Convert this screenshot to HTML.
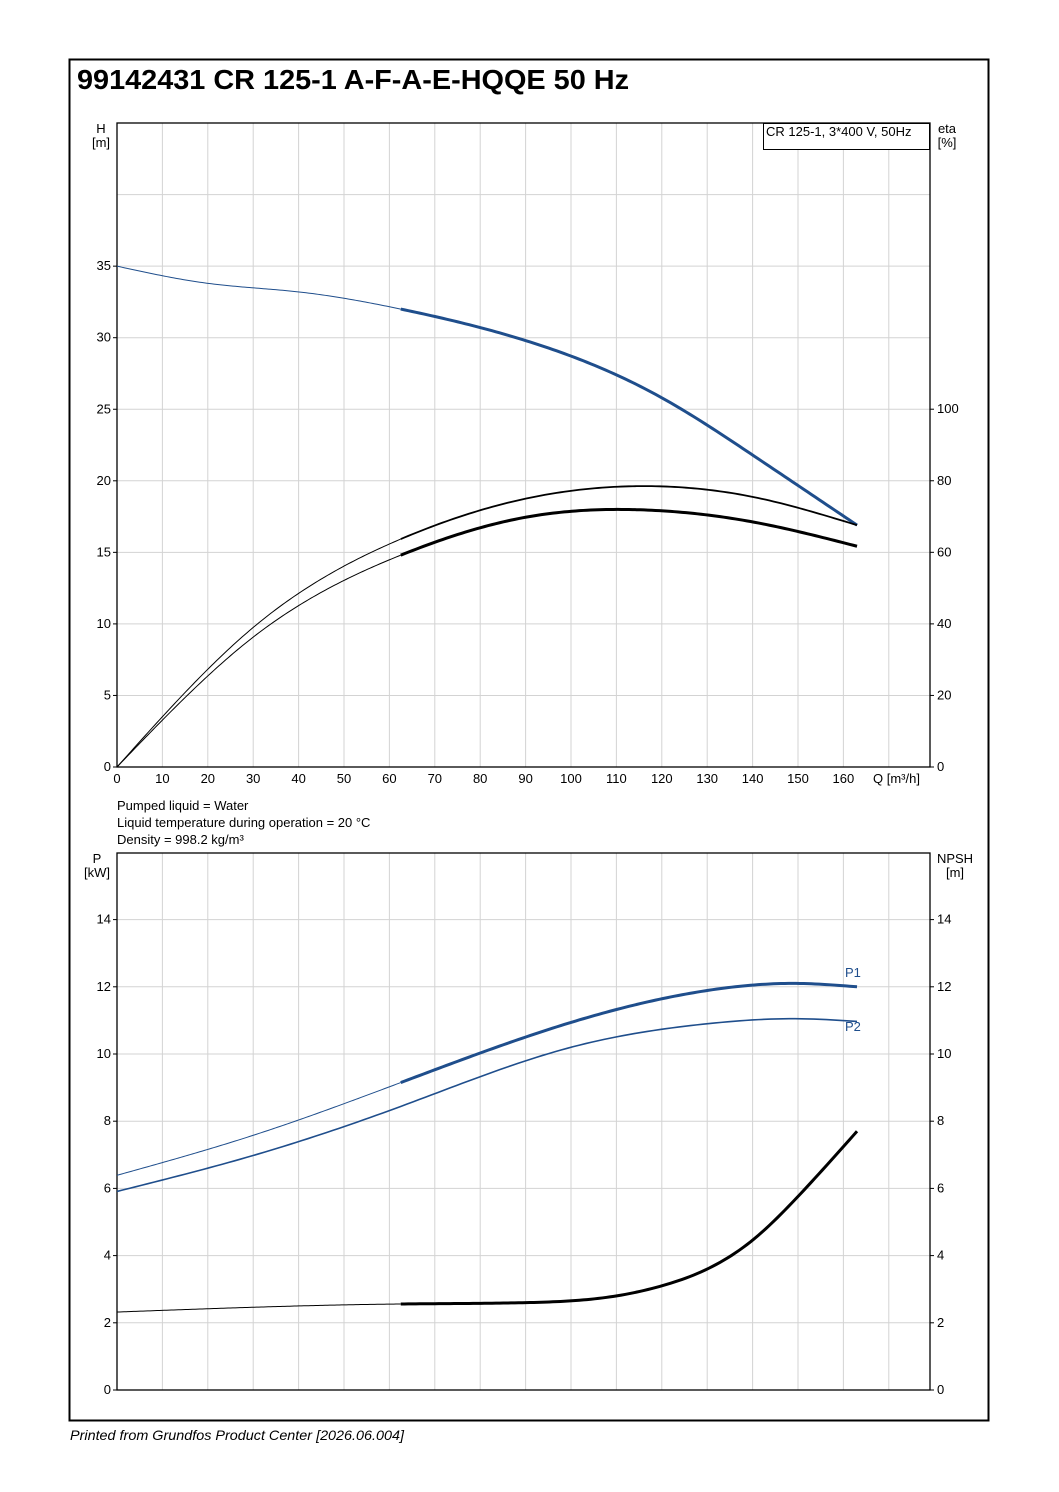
<!DOCTYPE html>
<html><head><meta charset="utf-8"><style>
html,body{margin:0;padding:0;background:#fff;width:1059px;height:1492px;overflow:hidden}
svg{display:block;font-family:"Liberation Sans",Arial,sans-serif}
</style></head><body>
<svg id="s" width="1059" height="1492" xmlns="http://www.w3.org/2000/svg">
<rect x="69.5" y="59.5" width="919" height="1361" fill="none" stroke="#000" stroke-width="2"/>
<text x="77" y="89" font-size="28" font-weight="bold" textLength="552" lengthAdjust="spacingAndGlyphs">99142431 CR 125-1 A-F-A-E-HQQE 50 Hz</text>
<text x="70" y="1440" font-size="14" font-style="italic" textLength="334" lengthAdjust="spacingAndGlyphs">Printed from Grundfos Product Center [2026.06.004]</text>
<text x="117" y="810" font-size="13">Pumped liquid = Water</text>
<text x="117" y="827" font-size="13">Liquid temperature during operation = 20 °C</text>
<text x="117" y="844" font-size="13">Density = 998.2 kg/m³</text>
<g id="g"></g>
</svg>
<script>
const qTicks=[0,10,20,30,40,50,60,70,80,90,100,110,120,130,140,150,160];
const hTicks=[0,5,10,15,20,25,30,35];
const etaTicks=[0,20,40,60,80,100];
const pTicks=[0,2,4,6,8,10,12,14];
const npshTicks=[0,2,4,6,8,10,12,14];
const qH=[0,20,40,62.5,90,120,140,163];
const hVals=[35,33.8,33.2,32,29.8,25.8,21.8,16.9];
const qEta=[0,30,62.5,90,117,140,163];
const etaTotal=[0,39,63.7,75,78.5,75.5,67.6];
const etaPump=[0,36.3,59.2,69.8,71.8,68.5,61.7];
const qP=[0,30,62.5,100,130,150,163];
const p1Vals=[6.39,7.58,9.15,10.94,11.89,12.1,12.0];
const p2Vals=[5.91,6.98,8.44,10.2,10.9,11.05,10.97];
const qN=[0,62.5,90,110,120,130,140,150,163];
const npshVals=[2.32,2.56,2.6,2.8,3.1,3.6,4.46,5.76,7.7];
const split=62.5;

const NS="http://www.w3.org/2000/svg";
const g=document.getElementById('g');
const X0=117,X1=930;
const xQ=q=>X0+q*4.54;
const yH=h=>767-h*14.31;
const yEta=e=>767-e*3.578;
const yP=p=>1390-p*33.6;
function el(t,a,p){const e=document.createElementNS(NS,t);for(const k in a)e.setAttribute(k,a[k]);(p||g).appendChild(e);return e;}
function txt(x,y,s,anchor,size,fill){const e=el('text',{x,y,'font-size':size||13,'text-anchor':anchor||'start',fill:fill||'#000'});e.textContent=s;return e;}
// natural cubic spline
function spline(xs,ys){const n=xs.length;const h=[],al=[],l=[1],mu=[0],z=[0],c=new Array(n).fill(0),b=[],d=[];
 for(let i=0;i<n-1;i++)h.push(xs[i+1]-xs[i]);
 for(let i=1;i<n-1;i++)al[i]=3/h[i]*(ys[i+1]-ys[i])-3/h[i-1]*(ys[i]-ys[i-1]);
 for(let i=1;i<n-1;i++){l[i]=2*(xs[i+1]-xs[i-1])-h[i-1]*mu[i-1];mu[i]=h[i]/l[i];z[i]=(al[i]-h[i-1]*z[i-1])/l[i];}
 for(let j=n-2;j>=0;j--){c[j]=(j<n-1&&j>0?z[j]:0)-mu[j]*c[j+1];if(j===0)c[0]=0;b[j]=(ys[j+1]-ys[j])/h[j]-h[j]*(c[j+1]+2*c[j])/3;d[j]=(c[j+1]-c[j])/(3*h[j]);}
 return x=>{let i=0;while(i<n-2&&x>xs[i+1])i++;const t=x-xs[i];return ys[i]+b[i]*t+c[i]*t*t+d[i]*t*t*t;};}
function curve(xs,ys,yf,a,b,w,col,name){const f=spline(xs,ys);const pts=[];
 for(let k=0;k<=120;k++){const x=a+(b-a)*k/120;pts.push([x,f(x)]);}
 const d=pts.map((p,i)=>(i?'L':'M')+xQ(p[0]).toFixed(2)+','+yf(p[1]).toFixed(2)).join('');
 const e=el('path',{d,fill:'none',stroke:col,'stroke-width':w,'stroke-linejoin':'round'});
 
 }

function panel(top,bot,hGrid,yL,lTicks,yR,rTicks,name){
 const gr=el('g',{});
 
 
 for(const q of qTicks.concat([170])){if(q===0)continue;el('line',{x1:xQ(q),x2:xQ(q),y1:top,y2:bot,stroke:'#d3d3d3','stroke-width':1},gr);}
 for(const v of hGrid){const y=yL(v);if(y<=top+1||y>=bot-1)continue;el('line',{x1:X0,x2:X1,y1:y,y2:y,stroke:'#d3d3d3','stroke-width':1},gr);}
 el('rect',{x:X0,y:top,width:X1-X0,height:bot-top,fill:'none',stroke:'#000','stroke-width':1.3},gr);
 for(const v of lTicks){const y=yL(v);el('line',{x1:X0-4,x2:X0,y1:y,y2:y,stroke:'#000'},gr);const t=txt(X0-6,y+4,String(v),'end');}
 for(const v of rTicks){const y=yR(v);el('line',{x1:X1,x2:X1+4,y1:y,y2:y,stroke:'#000'},gr);const t=txt(X1+7,y+4,String(v),'start');}
}
panel(123,767,[0,5,10,15,20,25,30,35,40],yH,hTicks,yEta,etaTicks,'head-efficiency-chart');
for(const q of qTicks){const t=txt(xQ(q),783,String(q),'middle');
 
 }
let t;
t=txt(873,783,'Q [m³/h]');
t=txt(101,133,'H','middle');
t=txt(101,147,'[m]','middle');
t=txt(947,133,'eta','middle');
t=txt(947,147,'[%]','middle');
const lg=el('rect',{x:763.5,y:123.5,width:166,height:26,fill:'#fff',stroke:'#000'});


t=txt(766,136,'CR 125-1, 3*400 V, 50Hz');

const blue='#1f4e8c';
curve(qH,hVals,yH,0,split,1,blue,'h-curve-thin');
curve(qH,hVals,yH,split,163,3,blue,'h-curve');
curve(qEta,etaTotal,yEta,0,split,1,'#000','eta-total-thin');
curve(qEta,etaTotal,yEta,split,163,1.8,'#000','eta-total-curve');
curve(qEta,etaPump,yEta,0,split,1,'#000','eta-pump-thin');
curve(qEta,etaPump,yEta,split,163,3,'#000','eta-pump-curve');

panel(853,1390,[0,2,4,6,8,10,12,14],yP,pTicks,yP,npshTicks,'power-npsh-chart');
t=txt(97,863,'P','middle');
t=txt(97,877,'[kW]','middle');
t=txt(955,863,'NPSH','middle');
t=txt(955,877,'[m]','middle');
curve(qP,p1Vals,yP,0,split,1,blue,'p1-curve-thin');
curve(qP,p1Vals,yP,split,163,3,blue,'p1-curve');
curve(qP,p2Vals,yP,0,163,1.6,blue,'p2-curve');
curve(qN,npshVals,yP,0,split,1,'#000','npsh-curve-thin');
curve(qN,npshVals,yP,split,163,3,'#000','npsh-curve');
t=txt(845,977,'P1','start',13,blue);
t=txt(845,1031,'P2','start',13,blue);
</script>
</body></html>
